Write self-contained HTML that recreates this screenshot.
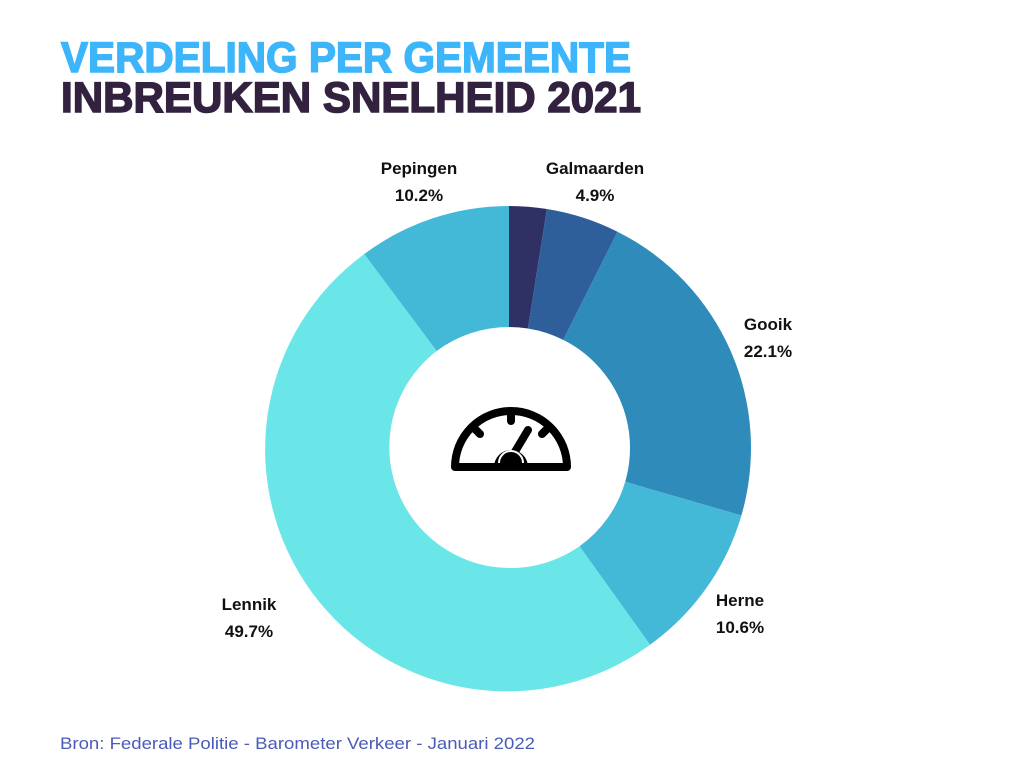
<!DOCTYPE html>
<html><head><meta charset="utf-8"><style>
html,body{margin:0;padding:0;background:#fff;}
svg{display:block;}
</style></head><body>
<svg width="1024" height="768" viewBox="0 0 1024 768" xmlns="http://www.w3.org/2000/svg">
<rect width="1024" height="768" fill="#fff"/>
<text x="61" y="72" font-family="Liberation Sans, sans-serif" font-weight="bold" font-size="43" fill="#3db5fb" stroke="#3db5fb" stroke-width="1.5" textLength="570" lengthAdjust="spacingAndGlyphs">VERDELING PER GEMEENTE</text>
<text x="61" y="112" font-family="Liberation Sans, sans-serif" font-weight="bold" font-size="43" fill="#33223f" stroke="#33223f" stroke-width="1.5" textLength="580" lengthAdjust="spacingAndGlyphs">INBREUKEN SNELHEID 2021</text>

<path d="M509,206 A242,242 0 0 1 546.9,209 L527.9,328.5 A121,121 0 0 0 509,327 Z" fill="#2f3164"/>
<path d="M546.9,209 A242,242 0 0 1 617.5,231.7 L563.3,339.9 A121,121 0 0 0 527.9,328.5 Z" fill="#2f5f9b"/>
<path d="M617.5,231.7 A242,242 0 0 1 741.4,515.5 L625.2,481.8 A121,121 0 0 0 563.3,339.9 Z" fill="#2e8bba"/>
<path d="M741.4,515.5 A242,242 0 0 1 650,644.7 L579.5,546.3 A121,121 0 0 0 625.2,481.8 Z" fill="#43b8d7"/>
<path d="M650,644.7 A242,242 0 0 1 364.3,254 L436.7,351 A121,121 0 0 0 579.5,546.3 Z" fill="#6ae5e8"/>
<path d="M364.3,254 A242,242 0 0 1 509,206 L509,327 A121,121 0 0 0 436.7,351 Z" fill="#43b8d7"/>

<g stroke="#000" fill="none" stroke-width="8" stroke-linecap="round">
<path d="M455,467 A56,56 0 0 1 567,467 Z" stroke-linejoin="round"/>
<line x1="511" y1="413" x2="511" y2="421"/>
<line x1="474" y1="428" x2="480" y2="434"/>
<line x1="548" y1="428" x2="542" y2="434"/>
<line x1="513" y1="455" x2="528" y2="430"/>
</g>
<path d="M494,467 A17,17 0 0 1 528,467 Z" fill="#000"/>
<path d="M499,463 A12,12 0 0 1 523,463" fill="none" stroke="#fff" stroke-width="2"/>

<g font-family="Liberation Sans, sans-serif" font-weight="bold" font-size="17" fill="#111" text-anchor="middle">
<text x="419" y="174">Pepingen</text><text x="419" y="201">10.2%</text>
<text x="595" y="174">Galmaarden</text><text x="595" y="201">4.9%</text>
<text x="768" y="330">Gooik</text><text x="768" y="357">22.1%</text>
<text x="740" y="606">Herne</text><text x="740" y="633">10.6%</text>
<text x="249" y="610">Lennik</text><text x="249" y="637">49.7%</text>
</g>
<text x="60" y="749" font-family="Liberation Sans, sans-serif" font-size="17" fill="#4a5bb8" textLength="475" lengthAdjust="spacingAndGlyphs">Bron: Federale Politie - Barometer Verkeer - Januari 2022</text>
</svg>
</body></html>
